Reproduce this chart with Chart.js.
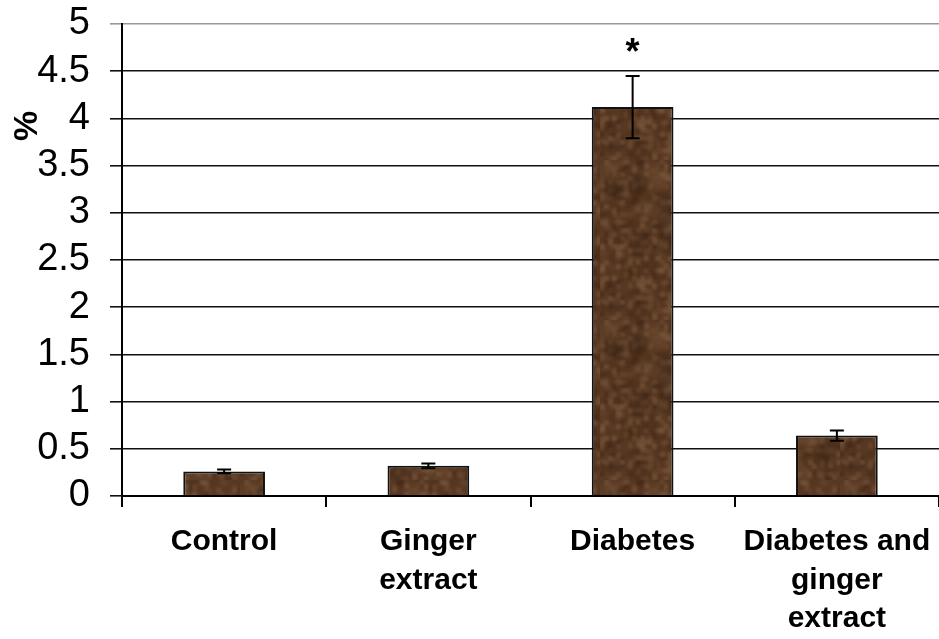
<!DOCTYPE html>
<html>
<head>
<meta charset="utf-8">
<script src="https://cdn.jsdelivr.net/npm/chart.js@4/dist/chart.umd.min.js"></script>
<style>
  html, body { margin: 0; padding: 0; background: #fff; }
  #wrap { width: 939px; height: 639px; }
</style>
</head>
<body>
<div id="wrap"><canvas id="myChart" width="939" height="639"></canvas></div>
<script>
// data
var categories = ['Control', ['Ginger', 'extract'], 'Diabetes', ['Diabetes and', 'ginger', 'extract']];
var values = [0.26, 0.32, 4.12, 0.64];
var errors = [0.02, 0.025, 0.33, 0.055];
var marks = ['', '', '*', ''];
var yTicks = [0, 0.5, 1, 1.5, 2, 2.5, 3, 3.5, 4, 4.5, 5];
var yTitle = '%';

var FONT = '"Liberation Sans", Arial, sans-serif';

// brown marble-ish fill for the bars (deterministic hash noise, blurred)
function hash(i, j) {
  var h = Math.sin(i * 127.1 + j * 311.7) * 43758.5453;
  return h - Math.floor(h);
}
function makeTexture() {
  var w = 120, h = 160;
  var c = document.createElement('canvas');
  c.width = w; c.height = h;
  var g = c.getContext('2d');
  g.fillStyle = '#583822';
  g.fillRect(0, 0, w, h);
  g.filter = 'blur(1.5px)';
  for (var i = 0; i < w; i += 4) {
    for (var j = 0; j < h; j += 4) {
      var n = hash(i, j);
      if (n > 0.6) g.fillStyle = 'rgba(155,120,90,' + ((n - 0.6) * 1.0).toFixed(2) + ')';
      else if (n < 0.3) g.fillStyle = 'rgba(35,20,10,' + ((0.3 - n) * 1.0).toFixed(2) + ')';
      else continue;
      g.fillRect(i, j, 5, 5);
    }
  }
  g.filter = 'blur(5px)';
  for (var k = 0; k < 14; k++) {
    var x = hash(k, 3) * w, y = hash(7, k) * h;
    g.fillStyle = k % 2 ? 'rgba(40,24,12,0.35)' : 'rgba(135,100,70,0.28)';
    g.beginPath();
    g.ellipse(x, y, 8 + hash(k, k) * 12, 6 + hash(k, 1) * 8, 0, 0, Math.PI * 2);
    g.fill();
  }
  return g.createPattern(c, 'repeat');
}

var extras = {
  id: 'extras',
  afterDatasetsDraw: function(chart) {
    var ctx = chart.ctx;
    var meta = chart.getDatasetMeta(0);
    var y = chart.scales.y;
    ctx.save();
    ctx.strokeStyle = '#000';
    ctx.lineWidth = 2;
    meta.data.forEach(function(bar, i) {
      var top = y.getPixelForValue(values[i] + errors[i]);
      var bot = y.getPixelForValue(values[i] - errors[i]);
      var x = bar.x;
      ctx.beginPath();
      ctx.moveTo(x, top); ctx.lineTo(x, bot);
      ctx.moveTo(x - 7, top); ctx.lineTo(x + 7, top);
      ctx.moveTo(x - 7, bot); ctx.lineTo(x + 7, bot);
      ctx.stroke();
      if (marks[i]) {
        ctx.fillStyle = '#000';
        ctx.font = 'bold 36px ' + FONT;
        ctx.textAlign = 'center';
        ctx.textBaseline = 'middle';
        ctx.fillText(marks[i], x, top - 22);
      }
    });
    // y axis title, sits high on the left like the original
    ctx.translate(28, y.getPixelForValue(3.92));
    ctx.rotate(-Math.PI / 2);
    ctx.fillStyle = '#000';
    ctx.font = 'bold 34px ' + FONT;
    ctx.textAlign = 'center';
    ctx.textBaseline = 'middle';
    ctx.fillText(yTitle, 0, 0);
    ctx.restore();
  }
};

const data = {
  labels: categories,
  datasets: [{
    label: yTitle,
    data: values,
    backgroundColor: makeTexture(),
    borderColor: '#111',
    borderWidth: 2,
    barPercentage: 0.4,
    categoryPercentage: 1.0
  }]
};

const config = {
  type: 'bar',
  data: data,
  plugins: [extras],
  options: {
    responsive: false,
    animation: false,
    layout: { padding: { top: 24, right: 0, left: 0, bottom: 0 } },
    plugins: { legend: { display: false }, tooltip: { enabled: false } },
    scales: {
      x: {
        afterFit: function(s) { s.height = 143; s.paddingLeft = 0; s.paddingRight = 0; },
        grid: { drawOnChartArea: false, drawTicks: true, tickLength: 11, color: '#000', lineWidth: 2, offset: true },
        border: { color: '#000', width: 2 },
        ticks: {
          color: '#000',
          padding: 16,
          maxRotation: 0,
          autoSkip: false,
          font: { family: FONT, size: 30, weight: 'bold', lineHeight: 1.28 }
        }
      },
      y: {
        min: 0,
        max: 5,
        afterFit: function(s) { s.width = 122; s.paddingTop = 0; s.paddingBottom = 0; },
        afterBuildTicks: function(s) { s.ticks = yTicks.map(function(v) { return { value: v }; }); },
        grid: {
          color: function(c) { return c.tick && c.tick.value === 5 ? '#999' : '#111'; },
          lineWidth: 1.6,
          tickLength: 12
        },
        border: { color: '#000', width: 2 },
        ticks: {
          color: '#000',
          padding: 20,
          autoSkip: false,
          callback: function(v) { return String(v); },
          font: { family: FONT, size: 38, lineHeight: 1.2 }
        }
      }
    }
  }
};

const myChart = new Chart(document.getElementById('myChart'), config);
</script>
</body>
</html>
